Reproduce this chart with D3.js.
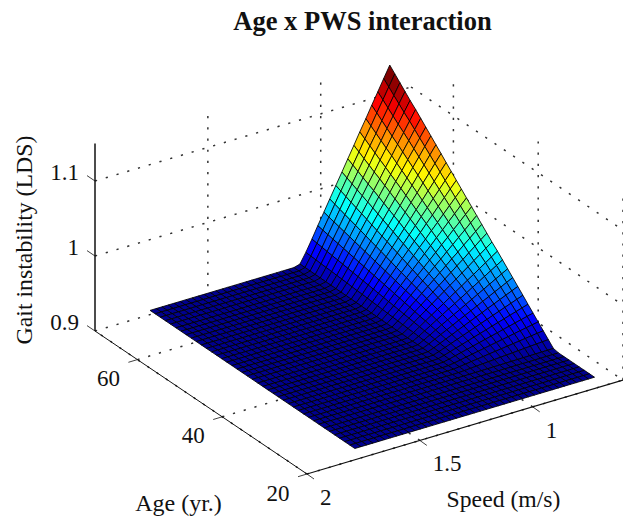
<!DOCTYPE html>
<html>
<head>
<meta charset="utf-8">
<script src="https://cdnjs.cloudflare.com/ajax/libs/d3/7.8.5/d3.min.js"></script>
<style>
  html, body { margin: 0; padding: 0; background: #fff; }
  text { font-family: "Liberation Serif", serif; fill: #111; }
</style>
</head>
<body>
<div id="chart"></div>
<script>
// mesh nodes
const ages = [20, 21.2, 22.4, 23.6, 24.8, 26, 27.2, 28.5, 29.7, 30.9, 32.1, 33.3, 34.5, 35.7, 36.9, 38.1, 39.3, 40.5, 41.7, 42.9, 44.2, 45.4, 46.6, 47.8, 49, 50.2, 51.4, 52.6, 53.8, 55, 56.2, 57.4, 58.6, 59.8, 61, 62.2, 63.5, 64.7, 65.9, 67.1, 68.3];
const speeds = [0.726, 0.753, 0.779, 0.806, 0.832, 0.859, 0.885, 0.912, 0.938, 0.965, 0.992, 1.018, 1.045, 1.071, 1.098, 1.124, 1.151, 1.177, 1.204, 1.23, 1.257, 1.284, 1.31, 1.337, 1.363, 1.39, 1.416, 1.443, 1.469, 1.496, 1.522, 1.549, 1.575, 1.602, 1.629, 1.655, 1.682, 1.708, 1.735, 1.761, 1.788];

// the surface is only readable along its two raised edges, so the height of an
// inner node is base + rise * ageRise * speedRise, from these edge readings
const zBase = 0.915;
const zRise = 0.232;
const ageRise = [0, 0, 0, 0, 0, 0, 0, 0, 0.006, 0.037, 0.068, 0.099, 0.13, 0.161, 0.193, 0.224, 0.255, 0.286, 0.317, 0.348, 0.379, 0.41, 0.441, 0.472, 0.503, 0.534, 0.565, 0.596, 0.627, 0.658, 0.69, 0.721, 0.752, 0.783, 0.814, 0.845, 0.876, 0.907, 0.938, 0.969, 1];
const speedRise = [1, 0.933, 0.867, 0.8, 0.733, 0.667, 0.6, 0.533, 0.467, 0.4, 0.333, 0.267, 0.2, 0.133, 0.067, 0.01, 0, 0, 0, 0, 0, 0, 0, 0, 0, 0, 0, 0, 0, 0, 0, 0, 0, 0, 0, 0, 0, 0, 0, 0, 0];

const ageTicks = [20, 40, 60];
const speedTicks = [1, 1.5, 2];
const zTicks = [0.9, 1, 1.1];
const zTickLabels = ["0.9", "1", "1.1"];
const speedTickLabels = ["1", "1.5", "2"];
const jetStops = ["#00008f", "#0000ff", "#00ffff", "#ffff00", "#ff0000", "#800000"];

const width = 623, height = 522;

const svg = d3.select("#chart").append("svg")
  .attr("width", width)
  .attr("height", height)
  .style("display", "block");

// oblique projection: each data axis moves along its own screen direction
const ageX = d3.scaleLinear().domain([20, 70]).range([0, -212]);
const ageY = d3.scaleLinear().domain([20, 70]).range([0, -143]);
const speedX = d3.scaleLinear().domain([2, 0.6]).range([0, 316]);
const speedY = d3.scaleLinear().domain([2, 0.6]).range([0, -94]);
const zY = d3.scaleLinear().domain([0.9, 1.15]).range([0, -187.5]);

const px = (a, s) => 307 + ageX(a) + speedX(s);
const py = (a, s, z) => 474 + ageY(a) + speedY(s) + zY(z);

const jet = d3.scaleLinear()
  .domain([0, 0.125, 0.375, 0.625, 0.875, 1])
  .range(jetStops)
  .clamp(true);
const zHeight = (i, j) => zBase + zRise * ageRise[i] * speedRise[j];
const zColor = d3.scaleQuantize()
  .domain([zBase, zBase + zRise])
  .range(d3.range(64).map(k => jet(k / 63)));

// grid on the walls and floor
const grid = svg.append("g")
  .attr("fill", "none")
  .attr("stroke", "#333")
  .attr("stroke-width", 1.5)
  .attr("stroke-dasharray", "2.2 9");

function gridLine(a0, s0, z0, a1, s1, z1) {
  grid.append("line")
    .attr("x1", px(a0, s0)).attr("y1", py(a0, s0, z0))
    .attr("x2", px(a1, s1)).attr("y2", py(a1, s1, z1));
}

zTicks.forEach(z => {
  gridLine(70, 2, z, 70, 0.6, z);
  gridLine(70, 0.6, z, 20, 0.6, z);
});
ageTicks.forEach(a => {
  gridLine(a, 2, 0.9, a, 0.6, 0.9);
  gridLine(a, 0.6, 0.9, a, 0.6, 1.15);
});
speedTicks.forEach(s => {
  gridLine(20, s, 0.9, 70, s, 0.9);
  if (s < 2) gridLine(70, s, 0.9, 70, s, 1.15);
});

// axes
const axes = svg.append("g").attr("stroke", "#111").attr("fill", "none");
function axisLine(x1, y1, x2, y2, w) {
  axes.append("line")
    .attr("x1", x1).attr("y1", y1)
    .attr("x2", x2).attr("y2", y2)
    .attr("stroke-width", w);
}
axisLine(px(70, 2), py(70, 2, 0.9), px(70, 2), py(70, 2, 1.15), 1.5);
axisLine(px(70, 2), py(70, 2, 0.9), px(20, 2), py(20, 2, 0.9), 1);
axisLine(px(20, 2), py(20, 2, 0.9), px(20, 0.6), py(20, 0.6, 0.9), 1.2);

zTicks.forEach((z, i) => {
  const x = px(70, 2), y = py(70, 2, z);
  axisLine(x, y, x - 8, y - 5.4, 0.8);
  svg.append("text").attr("x", x - 16).attr("y", y - 1)
    .attr("text-anchor", "end").attr("font-size", 23)
    .text(zTickLabels[i]);
});
ageTicks.forEach(a => {
  const x = px(a, 2), y = py(a, 2, 0.9);
  axisLine(x, y, x - 9, y + 2.7, 0.8);
  svg.append("text").attr("x", x - 29).attr("y", y + 26.5)
    .attr("text-anchor", "middle").attr("font-size", 23)
    .text(a);
});
speedTicks.forEach((s, i) => {
  const x = px(20, s), y = py(20, s, 0.9);
  axisLine(x, y, x + 7, y + 5, 0.8);
  svg.append("text").attr("x", x + 13).attr("y", y + 31)
    .attr("font-size", 23)
    .text(speedTickLabels[i]);
});

// surface, painted from the far corner forward
const mesh = svg.append("g")
  .attr("stroke", "#000")
  .attr("stroke-width", 0.85)
  .attr("stroke-linejoin", "round");
for (let i = ages.length - 2; i >= 0; i--) {
  for (let j = 0; j < speeds.length - 1; j++) {
    const corners = [[i, j], [i + 1, j], [i + 1, j + 1], [i, j + 1]];
    mesh.append("path")
      .attr("d", "M" + corners.map(c => px(ages[c[0]], speeds[c[1]]) + "," + py(ages[c[0]], speeds[c[1]], zHeight(c[0], c[1]))).join("L") + "Z")
      .attr("fill", zColor(zHeight(i + 1, j)));
  }
}

// labels
svg.append("text").attr("x", 362.5).attr("y", 30)
  .attr("text-anchor", "middle").attr("font-size", 26.5).attr("font-weight", "bold")
  .text("Age x PWS interaction");
svg.append("text").attr("x", 178.5).attr("y", 511)
  .attr("text-anchor", "middle").attr("font-size", 24)
  .text("Age (yr.)");
svg.append("text").attr("x", 503.5).attr("y", 507)
  .attr("text-anchor", "middle").attr("font-size", 23.7)
  .text("Speed (m/s)");
svg.append("text")
  .attr("transform", "translate(32,240) rotate(-90)")
  .attr("text-anchor", "middle").attr("font-size", 23.8)
  .text("Gait instability (LDS)");
</script>
</body>
</html>
